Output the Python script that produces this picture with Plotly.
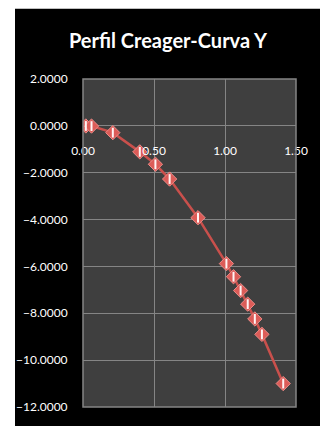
import plotly.graph_objects as go

x_vals = [0.02, 0.06, 0.21, 0.40, 0.51, 0.61, 0.81, 1.01, 1.06, 1.11, 1.16, 1.21, 1.26, 1.41]
y_vals = [-0.005, -0.01, -0.29, -1.11, -1.64, -2.27, -3.92, -5.88, -6.44, -7.03, -7.61, -8.24, -8.90, -11.0]
title_text = "Perfil Creager-Curva Y"
x_ticks = [0.0, 0.5, 1.0, 1.5]
y_ticks = [2, 0, -2, -4, -6, -8, -10, -12]

W, H = 320, 426
L, R, T, B = 83, 24, 79, 15
pw, ph = W - L - R, H - T - B

fig = go.Figure()
fig.add_trace(go.Scatter(
    x=x_vals, y=y_vals, mode="lines+markers",
    line=dict(color="#c9504c", width=2.5),
    marker=dict(symbol="diamond", size=11, color="#dc5c58",
                line=dict(color="#ec8c88", width=1)),
    hoverinfo="skip", showlegend=False))
fig.add_trace(go.Scatter(
    x=x_vals, y=y_vals, mode="markers",
    marker=dict(symbol="line-ns", size=7, line=dict(color="#fff4f4", width=2)),
    hoverinfo="skip", showlegend=False))

grid = "#858585"
fig.update_layout(
    width=W, height=H,
    margin=dict(l=L, r=R, t=T, b=B, pad=0),
    paper_bgcolor="black", plot_bgcolor="#3f3f3f",
    title=dict(text="<b>" + title_text + "</b>", x=168 / W, xanchor="center",
               y=1 - 41 / H, yanchor="middle",
               font=dict(family="Lato", size=20, color="white")),
    xaxis=dict(range=[0, 1.5], tickvals=x_ticks, tickformat=".2f",
               showgrid=True, gridcolor=grid, gridwidth=1, zeroline=False,
               showline=False, anchor="free", position=12 / 14,
               ticks="outside", ticklen=14, tickcolor="rgba(0,0,0,0)",
               tickfont=dict(family="Lato", size=12, color="white")),
    yaxis=dict(range=[-12, 2], tickvals=y_ticks, tickformat=".4f",
               showgrid=True, gridcolor=grid, gridwidth=1, zeroline=False,
               showline=False,
               ticks="outside", ticklen=12, tickcolor="rgba(0,0,0,0)",
               tickfont=dict(family="Lato", size=12, color="white")),
    shapes=[
        dict(type="rect", xref="paper", yref="paper",
             x0=-L / pw, x1=(15 - L) / pw, y0=-B / ph - 0.05, y1=(H - B) / ph + 0.05,
             fillcolor="white", line=dict(width=0), layer="below"),
        dict(type="rect", xref="paper", yref="paper",
             x0=-L / pw, x1=(W - L) / pw + 0.05, y0=(H - B - 8) / ph, y1=(H - B) / ph + 0.05,
             fillcolor="white", line=dict(width=0), layer="below"),
        dict(type="rect", xref="paper", yref="paper", x0=0, x1=1, y0=0, y1=1,
             line=dict(color=grid, width=1.5), layer="above"),
    ],
)
fig.write_html("out.html")
